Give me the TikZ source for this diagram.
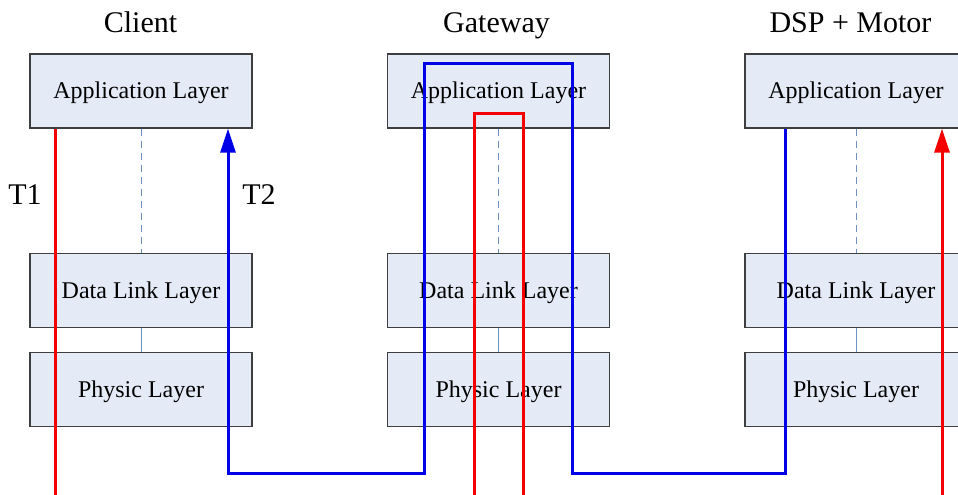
\documentclass[tikz,border=0pt]{standalone}
\usepackage{fontspec}
\setmainfont{Liberation Serif}
\usetikzlibrary{arrows.meta,positioning}
\definecolor{boxfill}{HTML}{E5EBF6}
\definecolor{boxline}{HTML}{3E3E3E}
\definecolor{linkline}{HTML}{6F93C0}
\definecolor{pathred}{HTML}{F40000}
\definecolor{pathblue}{HTML}{0000E6}
\begin{document}
\begin{tikzpicture}[x=1pt,y=-1pt,
    layer/.style={draw=boxline,line width=1.2pt,fill=boxfill,minimum width=222pt,
      minimum height=74pt,inner sep=0pt,text depth=1pt,font=\fontsize{24}{28}\selectfont},
    title/.style={font=\fontsize{30}{36}\selectfont},
    route/.style={line width=3pt},
    tip/.style={-{Triangle[length=24pt,width=15pt]}}]
  \useasboundingbox (0,0) rectangle (958,495);
  % three stacks of layers
  \foreach \col/\x/\tx/\ttl in {cl/141/140.5/Client,gw/498.5/496.5/Gateway,dsp/856/850.5/DSP + Motor} {
    \node[title,anchor=base] (\col-title) at (\tx,33) {\ttl};
    \node[layer] (\col-app) at (\x,91) {Application Layer};
    \node[layer,below=124pt of \col-app] (\col-dl) {Data Link Layer};
    \node[layer,below=24pt of \col-dl] (\col-ph) {Physic Layer};
    \draw[linkline,line width=1pt,dash pattern=on 7pt off 5pt] (\col-app) -- (\col-dl);
    \draw[linkline,line width=1pt] (\col-dl) -- (\col-ph);
  }
  % T1 (red)
  \coordinate (t1a) at (55,495);
  \coordinate (t1b) at (474,495);
  \coordinate (t1c) at (523,495);
  \coordinate (t1d) at (942,495);
  \draw[route,pathred] (cl-app.south -| t1a) -- (t1a);
  \draw[route,pathred] (t1b) -- ++(0,-382) -| (t1c);
  \draw[route,pathred,tip] (t1d) -- (t1d |- dsp-app.south);
  \node[title] (t1) at (25,195) {T1};
  % T2 (blue)
  \draw[route,pathblue,tip] (dsp-app.south -| 785,0) |- (572,473) |- (424,64)
    |- (228,473) -- (cl-app.south -| 228,0);
  \node[title] (t2) at (259,195) {T2};
\end{tikzpicture}
\end{document}
